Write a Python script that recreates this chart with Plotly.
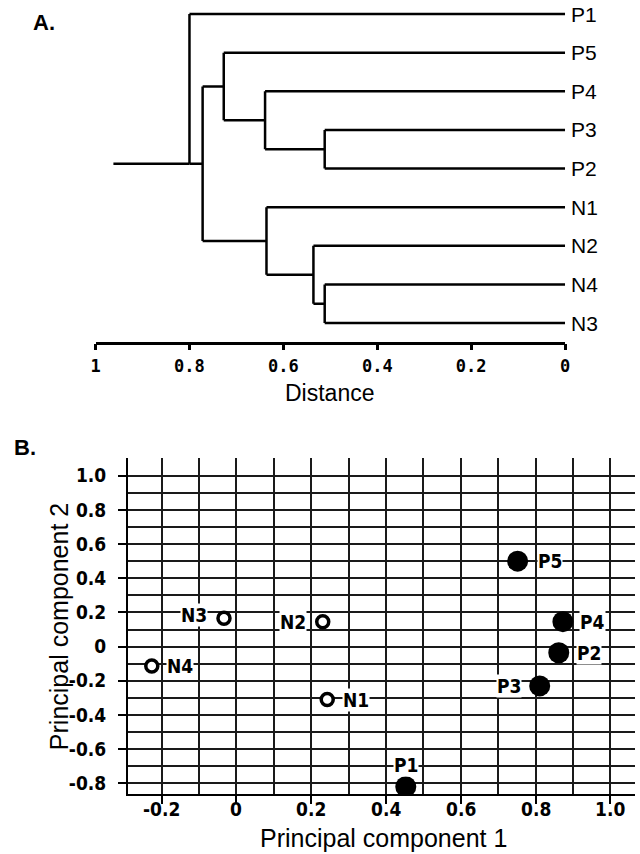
import plotly.graph_objects as go

# ---------------- Panel A: hierarchical clustering ----------------
leaf_names = ["P1", "P5", "P4", "P3", "P2", "N1", "N2", "N4", "N3"]
# merges: (left child, right child, distance); children are leaf names or merge ids "m<k>"
merge_left = ["P3", "P4", "P5", "N4", "N2", "N1", "m3", "P1"]
merge_right = ["P2", "m1", "m2", "N3", "m4", "m5", "m6", "m7"]
merge_height = [0.512, 0.639, 0.727, 0.512, 0.536, 0.636, 0.772, 0.800]
root_start = 0.962

dist_ticks = [1, 0.8, 0.6, 0.4, 0.2, 0]
dist_ticktext = ["1", "0.8", "0.6", "0.4", "0.2", "0"]

# ---------------- Panel B: principal component scores ----------------
pos_names = ["P1", "P2", "P3", "P4", "P5"]
pos_pc1 = [0.453, 0.862, 0.811, 0.873, 0.752]
pos_pc2 = [-0.82, -0.036, -0.23, 0.146, 0.50]
neg_names = ["N1", "N2", "N3", "N4"]
neg_pc1 = [0.243, 0.231, -0.033, -0.226]
neg_pc2 = [-0.31, 0.146, 0.166, -0.114]

pc1_ticks = [-0.2, 0, 0.2, 0.4, 0.6, 0.8, 1.0]
pc1_ticktext = ["-0.2", "0", "0.2", "0.4", "0.6", "0.8", "1.0"]
pc2_ticks = [1.0, 0.8, 0.6, 0.4, 0.2, 0, -0.2, -0.4, -0.6, -0.8]
pc2_ticktext = ["1.0", "0.8", "0.6", "0.4", "0.2", "0", "-0.2", "-0.4", "-0.6", "-0.8"]

# label placement for each point: (side, xshift, yshift)
label_place = {
    "P1": ("top", 0, 22), "P2": ("right", 17, 0), "P3": ("left", -18, 0),
    "P4": ("right", 16, 0), "P5": ("right", 19, 0),
    "N1": ("right", 15, 0), "N2": ("left", -16, 0), "N3": ("left", -16, 3),
    "N4": ("right", 14, 0),
}

W, H = 640, 854
NARROW = "DejaVu Sans Condensed, Liberation Sans Narrow, Arial Narrow, Liberation Sans, Arial"
SANS = "Liberation Sans, Arial"


def py(px):
    """pixel row -> paper y"""
    return 1 - px / H


def pxx(px):
    return px / W


# --- dendrogram geometry ---
node_y = {n: float(i) for i, n in enumerate(leaf_names)}
node_h = {n: 0.0 for n in leaf_names}
xs, ys = [], []
for k, (a, b, h) in enumerate(zip(merge_left, merge_right, merge_height), start=1):
    for c in (a, b):
        xs += [node_h[c], h, None]
        ys += [node_y[c], node_y[c], None]
    xs += [h, h, None]
    ys += [node_y[a], node_y[b], None]
    mid = f"m{k}"
    node_y[mid] = (node_y[a] + node_y[b]) / 2
    node_h[mid] = h
# root stub, drawn level with the lower branch of the last merge
last_low = node_y[merge_right[-1]]
xs += [merge_height[-1], root_start]
ys += [last_low, last_low]

fig = go.Figure()
fig.add_trace(go.Scatter(x=xs, y=ys, mode="lines", line=dict(color="black", width=2.5),
                         xaxis="x", yaxis="y", hoverinfo="skip", showlegend=False))

# --- PCA scatter ---
fig.add_trace(go.Scatter(x=neg_pc1, y=neg_pc2, mode="markers", xaxis="x2", yaxis="y2",
                         marker=dict(symbol="circle", size=12, color="white",
                                     line=dict(color="black", width=3.5)),
                         showlegend=False))
fig.add_trace(go.Scatter(x=pos_pc1, y=pos_pc2, mode="markers", xaxis="x2", yaxis="y2",
                         marker=dict(symbol="circle", size=21, color="black",
                                     line=dict(color="black", width=0)),
                         showlegend=False))

annotations = []
# leaf labels
for n in leaf_names:
    annotations.append(dict(x=0, y=node_y[n], xref="x", yref="y", text=n, showarrow=False,
                            xanchor="left", yanchor="middle", xshift=4,
                            font=dict(family=SANS, size=21, color="black")))
# point labels
for names, xv, yv in ((pos_names, pos_pc1, pos_pc2), (neg_names, neg_pc1, neg_pc2)):
    for n, x, y in zip(names, xv, yv):
        side, dx, dy = label_place[n]
        anchor = {"right": "left", "left": "right", "top": "center"}[side]
        annotations.append(dict(x=x, y=y, xref="x2", yref="y2", text=f"<b>{n}</b>",
                                showarrow=False,
                                xanchor=anchor, yanchor="middle", xshift=dx, yshift=dy,
                                bgcolor="white", borderpad=0,
                                font=dict(family=NARROW, size=19, color="black")))
# PC1 tick labels, set just under the tick marks
for v, t in zip(pc1_ticks, pc1_ticktext):
    annotations.append(dict(x=v, y=py(809), xref="x2", yref="paper", text=f"<b>{t}</b>",
                            showarrow=False, xanchor="center", yanchor="middle",
                            font=dict(family=NARROW, size=19, color="black")))
# panel letters and axis titles
annotations += [
    dict(x=pxx(40), y=py(22), xref="paper", yref="paper", text="<b>A.</b>", showarrow=False,
         xanchor="center", yanchor="middle", font=dict(family=SANS, size=22, color="black")),
    dict(x=pxx(20), y=py(447), xref="paper", yref="paper", text="<b>B.</b>", showarrow=False,
         xanchor="center", yanchor="middle", font=dict(family=SANS, size=22, color="black")),
    dict(x=pxx(330), y=py(393), xref="paper", yref="paper", text="Distance", showarrow=False,
         xanchor="center", yanchor="middle", font=dict(family=SANS, size=23, color="black")),
    dict(x=pxx(385), y=py(838), xref="paper", yref="paper", text="Principal component 1",
         showarrow=False, xanchor="center", yanchor="middle",
         font=dict(family=SANS, size=25, color="black")),
    dict(x=pxx(55), y=py(627), xref="paper", yref="paper", text="Principal component 2",
         showarrow=False, xanchor="center", yanchor="middle", textangle=-90,
         font=dict(family=SANS, size=25, color="black")),
]

# panel A pixel frame: distance 1 -> x=92, 0 -> x=569; leaves 0..8 -> y=14..323
leaf_top, leaf_bot = 14.0, 323.0
per_leaf = (leaf_bot - leaf_top) / (len(leaf_names) - 1)
a_top, a_bot = 5.0, 341.7
ya_range = [len(leaf_names) - 1 + (a_bot - leaf_bot) / per_leaf, -(leaf_top - a_top) / per_leaf]

# panel B pixel frame: pc1 0 -> x=235, 38 px per 0.1; pc2 1.0 -> y=475.7, 17.09 px per 0.1
b_left, b_right = 125.0, 640.0
b_top, b_bot = 458.0, 794.0
x0_px, x_step = 235.0, 380.0
y1_px, y_step = 475.7, 170.9
xb_range = [(b_left - x0_px) / x_step, (b_right - x0_px) / x_step]
yb_range = [1 + (y1_px - b_bot) / y_step, 1 + (y1_px - b_top) / y_step]

grid_col = "#1a1a1a"
fig.update_layout(
    width=W, height=H, margin=dict(l=0, r=0, t=0, b=0),
    paper_bgcolor="white", plot_bgcolor="white", showlegend=False,
    annotations=annotations,
    xaxis=dict(domain=[pxx(92), pxx(569)], range=[1, 0], anchor="y",
               showgrid=False, zeroline=False, showline=True, linecolor="black", linewidth=2.5,
               ticks="outside", ticklen=6, tickwidth=2.5, tickcolor="black",
               tickvals=dist_ticks, ticktext=dist_ticktext, ticklabelstandoff=1,
               tickfont=dict(family="DejaVu Sans Mono", size=17, color="black", weight="bold")),
    yaxis=dict(domain=[py(a_bot), py(a_top)], range=ya_range, anchor="x", visible=False),
    xaxis2=dict(domain=[pxx(b_left), 1.0], range=xb_range, anchor="y2",
                tickvals=pc1_ticks, showticklabels=False,
                showgrid=True, gridcolor=grid_col, gridwidth=2,
                zeroline=True, zerolinecolor=grid_col, zerolinewidth=2,
                minor=dict(dtick=0.1, tick0=0, showgrid=True, gridcolor=grid_col, gridwidth=2),
                showline=True, linecolor="black", linewidth=2,
                ticks="outside", ticklen=8, tickwidth=2, tickcolor="black"),
    yaxis2=dict(domain=[py(b_bot), py(b_top)], range=yb_range, anchor="x2",
                tickvals=pc2_ticks, ticktext=[f"<b>{t}</b>" for t in pc2_ticktext],
                showgrid=True, gridcolor=grid_col, gridwidth=2,
                zeroline=True, zerolinecolor=grid_col, zerolinewidth=2,
                minor=dict(dtick=0.1, tick0=0, showgrid=True, gridcolor=grid_col, gridwidth=2),
                showline=True, linecolor="black", linewidth=2,
                ticks="outside", ticklen=8, tickwidth=2, tickcolor="black", ticklabelstandoff=8,
                tickfont=dict(family=NARROW, size=19, color="black")),
)

fig.write_html("out.html")
